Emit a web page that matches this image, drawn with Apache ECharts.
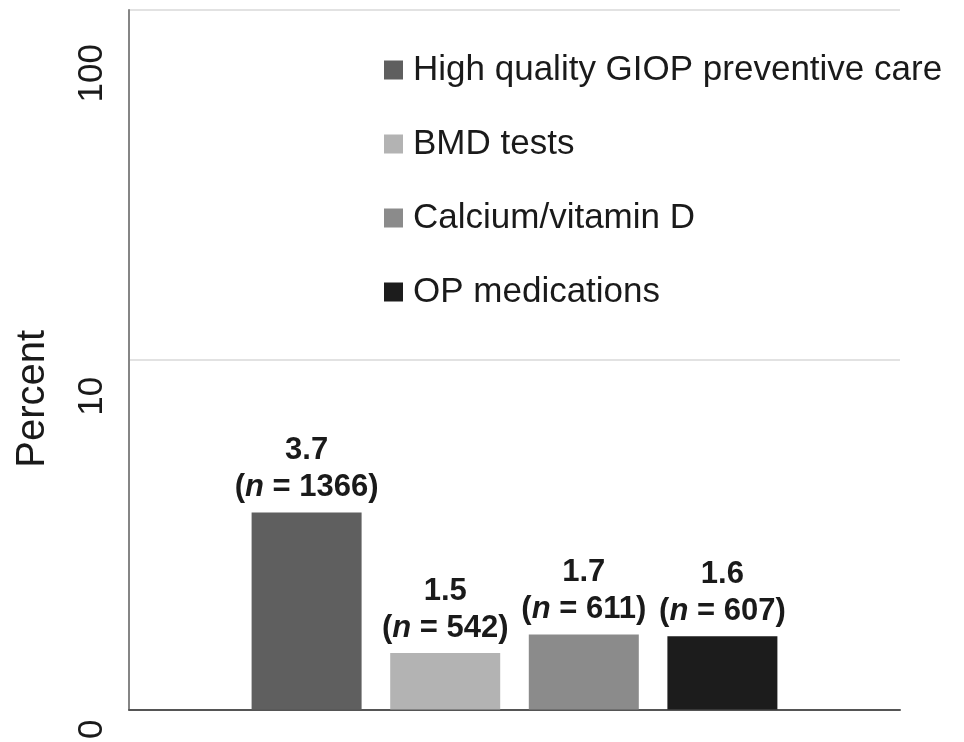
<!DOCTYPE html>
<html>
<head>
<meta charset="utf-8">
<script src="https://cdn.jsdelivr.net/npm/echarts@6/dist/echarts.min.js"></script>
<style>
html,body{margin:0;padding:0;background:#fff;}
#chart{width:964px;height:742px;}
</style>
</head>
<body>
<div id="chart"></div>
<script>
// ---- data ----
var categories = ['GIOP'];
var seriesNames = ['High quality GIOP preventive care', 'BMD tests', 'Calcium/vitamin D', 'OP medications'];
// bar heights as drawn in the picture (log scale)
var seriesValues = [3.66, 1.45, 1.64, 1.62];
// printed value labels above the bars
var labelValues = ['3.7', '1.5', '1.7', '1.6'];
var seriesCounts = [1366, 542, 611, 607];
var seriesColors = ['#5f5f5f', '#b3b3b3', '#8b8b8b', '#1c1c1c'];
var yTickValues = [1, 10, 100];
var yTickLabels = ['0', '10', '100'];
var yAxisTitle = 'Percent';

var FONT = '"Liberation Sans", Arial, Helvetica, sans-serif';

var chart = echarts.init(document.getElementById('chart'));

var series = seriesNames.map(function (name, i) {
  return {
    name: name,
    type: 'bar',
    data: [seriesValues[i]],
    barWidth: 110,
    barGap: '26%',
    itemStyle: { color: seriesColors[i] },
    label: {
      show: true,
      position: 'top',
      distance: 6,
      formatter: function (p) {
        return '{b|' + labelValues[p.seriesIndex] + '}\n{b|(}{i|n}{b| = ' + seriesCounts[p.seriesIndex] + ')}';
      },
      rich: {
        b: { fontFamily: FONT, fontSize: 31, fontWeight: 'bold', color: '#1a1a1a', lineHeight: 37 },
        i: { fontFamily: FONT, fontSize: 31, fontWeight: 'bold', fontStyle: 'italic', color: '#1a1a1a', lineHeight: 37 }
      }
    }
  };
});

var option = {
  backgroundColor: '#ffffff',
  animation: false,
  grid: { left: 129, right: 64, top: 10, bottom: 24, containLabel: false },
  legend: {
    orient: 'vertical',
    left: 379,
    top: 45,
    itemWidth: 19,
    itemHeight: 19,
    itemGap: 34,
    icon: 'rect',
    textStyle: { fontFamily: FONT, fontSize: 35, color: '#1a1a1a', lineHeight: 40, padding: [0, 0, 0, 5] },
    data: seriesNames
  },
  xAxis: {
    type: 'category',
    data: categories,
    axisLine: { show: true, lineStyle: { color: '#555555', width: 2 } },
    axisTick: { show: false },
    axisLabel: { show: false },
    splitLine: { show: false }
  },
  yAxis: {
    type: 'log',
    logBase: 10,
    min: yTickValues[0],
    max: yTickValues[yTickValues.length - 1],
    name: yAxisTitle,
    nameLocation: 'middle',
    nameGap: 76,
    nameRotate: 90,
    nameTextStyle: { fontFamily: FONT, fontSize: 40, color: '#1a1a1a', padding: [0, 78, 0, 0] },
    axisLine: { show: true, lineStyle: { color: '#858585', width: 2 } },
    axisTick: { show: false },
    splitLine: { show: true, lineStyle: { color: '#d9d9d9', width: 1.5 } },
    axisLabel: {
      rotate: 90,
      margin: 19,
      align: 'right',
      fontFamily: FONT,
      fontSize: 35,
      color: '#1a1a1a',
      formatter: function (v) {
        var idx = yTickValues.indexOf(Math.round(v));
        if (idx < 0) return '';
        return '{t' + idx + '|' + yTickLabels[idx] + '}';
      },
      rich: {
        t0: { fontFamily: FONT, fontSize: 35, color: '#1a1a1a', padding: [0, 10, 0, 0] },
        t1: { fontFamily: FONT, fontSize: 35, color: '#1a1a1a', padding: [0, 17, 0, 0] },
        t2: { fontFamily: FONT, fontSize: 35, color: '#1a1a1a', padding: [0, 34, 0, 0] }
      }
    }
  },
  series: series
};

chart.setOption(option);
</script>
</body>
</html>
